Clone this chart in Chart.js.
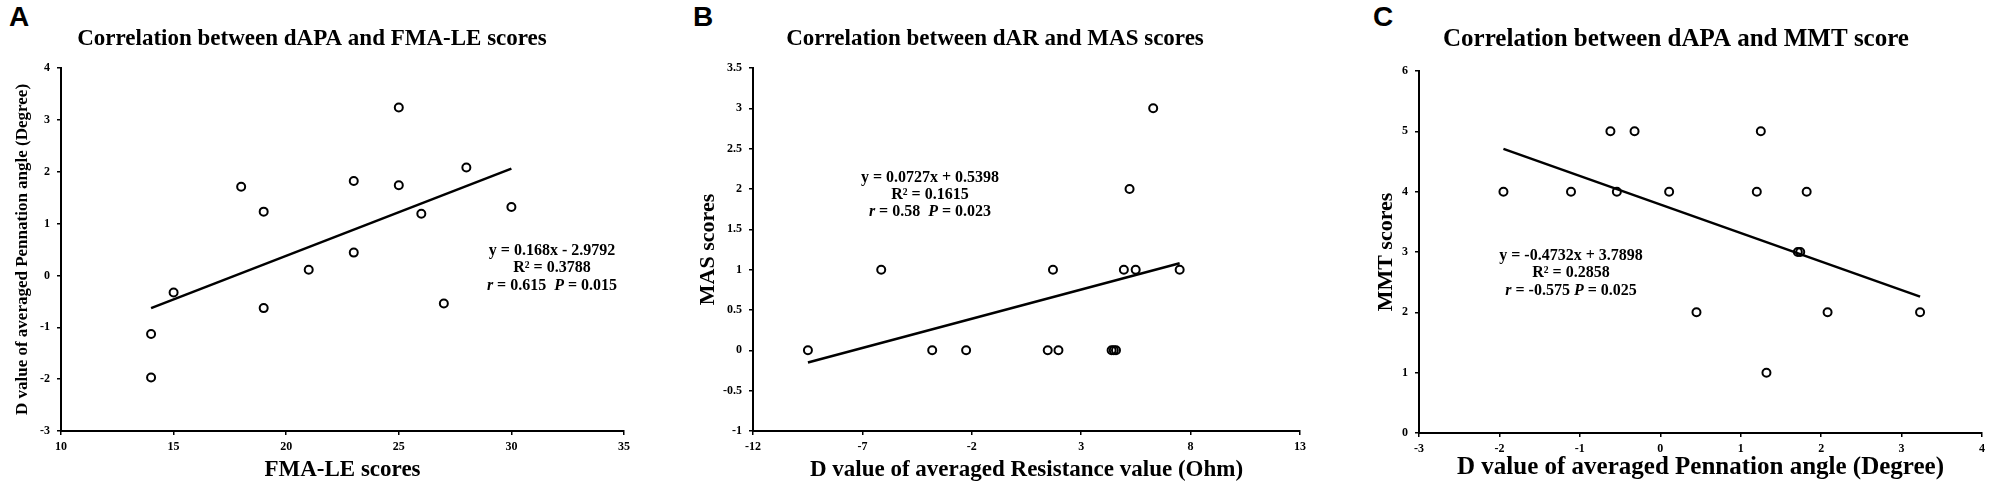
<!DOCTYPE html>
<html><head><meta charset="utf-8">
<script src="https://cdn.jsdelivr.net/npm/chart.js@4.4.1/dist/chart.umd.min.js"></script>
<style>
html,body{margin:0;padding:0;background:#fff;width:2000px;height:497px;overflow:hidden;}
.panel{position:absolute;top:0;}
.letter{position:absolute;font-family:"Liberation Sans",Arial,sans-serif;font-weight:bold;font-size:28px;line-height:28px;color:#000;}
</style></head><body>
<div class="letter" style="left:9px;top:3px">A</div>
<div class="letter" style="left:693px;top:3px">B</div>
<div class="letter" style="left:1373px;top:3px">C</div>
<canvas id="cA" class="panel" width="640" height="497" style="left:0px"></canvas>
<canvas id="cB" class="panel" width="622" height="497" style="left:690px"></canvas>
<canvas id="cC" class="panel" width="620" height="497" style="left:1370px"></canvas>
<script>
// ---- Panel A: dAPA vs FMA-LE ----
const fmaX = [14, 14, 15, 18, 19, 19, 21, 23, 23, 25, 25, 26, 27, 28, 30];
const fmaY = [-1.13, -1.97, -0.33, 1.71, 1.23, -0.63, 0.11, 1.82, 0.44, 3.24, 1.74, 1.19, -0.54, 2.08, 1.32];
const trendAX = [14, 30];
const trendAY = [-0.63, 2.06];
const ticksAX = [10, 15, 20, 25, 30, 35];
const ticksAY = [-3, -2, -1, 0, 1, 2, 3, 4];

// ---- Panel B: dAR vs MAS ----
const arX = [-9.49, -6.14, -3.81, -2.26, 1.47, 1.71, 1.96, 4.39, 4.49, 4.59, 4.95, 5.21, 5.49, 6.29, 7.50];
const masY = [0, 1, 0, 0, 0, 1, 0, 0, 0, 0, 1, 2, 1, 3, 1];
const trendBX = [-9.49, 7.5];
const trendBY = [-0.15, 1.08];
const ticksBX = [-12, -7, -2, 3, 8, 13];
const ticksBY = [-1, -0.5, 0, 0.5, 1, 1.5, 2, 2.5, 3, 3.5];

// ---- Panel C: dAPA vs MMT ----
const apaX = [-1.95, -1.11, -0.62, -0.54, -0.32, 0.11, 0.45, 1.20, 1.25, 1.32, 1.71, 1.74, 1.82, 2.08, 3.23];
const mmtY = [4, 4, 5, 4, 5, 4, 2, 4, 5, 1, 3, 3, 4, 2, 2];
const trendCX = [-1.95, 3.23];
const trendCY = [4.71, 2.26];
const ticksCX = [-3, -2, -1, 0, 1, 2, 3, 4];
const ticksCY = [0, 1, 2, 3, 4, 5, 6];

const titles = ["Correlation between dAPA and FMA-LE scores", "Correlation between dAR and MAS scores", "Correlation between dAPA and MMT score"];
const xTitles = ["FMA-LE scores", "D value of averaged Resistance value (Ohm)", "D value of averaged Pennation angle (Degree)"];
const yTitles = ["D value of averaged Pennation angle (Degree)", "MAS scores", "MMT scores"];
const annA = [[["y = 0.168x - 2.9792", "n"]], [["R² = 0.3788", "n"]], [["r", "i"], [" = 0.615  ", "n"], ["P", "i"], [" = 0.015", "n"]]];
const annB = [[["y = 0.0727x + 0.5398", "n"]], [["R² = 0.1615", "n"]], [["r", "i"], [" = 0.58  ", "n"], ["P", "i"], [" = 0.023", "n"]]];
const annC = [[["y = -0.4732x + 3.7898", "n"]], [["R² = 0.2858", "n"]], [["r", "i"], [" = -0.575 ", "n"], ["P", "i"], [" = 0.025", "n"]]];

const SERIF = '"Liberation Serif", "Times New Roman", serif';
const pts = (xs, ys) => xs.map((x, i) => ({x: x, y: ys[i]}));

const annotPlugin = {
  id: 'annot',
  afterDatasetsDraw(chart, args, opts) {
    if (!opts || !opts.lines) return;
    const ctx = chart.ctx;
    ctx.save();
    ctx.fillStyle = '#000';
    ctx.textBaseline = 'middle';
    ctx.textAlign = 'left';
    const fN = 'bold ' + opts.size + 'px ' + SERIF;
    const fI = 'italic bold ' + opts.size + 'px ' + SERIF;
    opts.lines.forEach((segs, li) => {
      let total = 0;
      segs.forEach(s => { ctx.font = s[1] === 'i' ? fI : fN; total += ctx.measureText(s[0]).width; });
      let x = opts.x - total / 2;
      const y = opts.ys[li];
      segs.forEach(s => { ctx.font = s[1] === 'i' ? fI : fN; ctx.fillText(s[0], x, y); x += ctx.measureText(s[0]).width; });
    });
    ctx.restore();
  }
};

function axis(pos, min, max, tickVals, fitSize, titleText, titleFont, titlePad) {
  return {
    type: 'linear', position: pos, min: min, max: max,
    afterBuildTicks: s => { s.ticks = tickVals.map(v => ({value: v})); },
    afterFit: s => { if (pos === 'bottom') s.height = fitSize; else s.width = fitSize; },
    ticks: {color: '#000', font: {family: SERIF, weight: 'bold', size: 12}, padding: pos === 'bottom' ? 5 : 7,
            autoSkip: false, maxRotation: 0, callback: v => String(v)},
    grid: {display: true, drawOnChartArea: false, drawTicks: true, tickLength: 4, color: '#000', lineWidth: 1.5},
    border: {display: true, color: '#000', width: 2},
    title: {display: true, text: titleText, color: '#000', font: {family: SERIF, weight: 'bold', size: titleFont, lineHeight: 1.2}, padding: titlePad}
  };
}

function makeChart(id, cfg) {
  new Chart(document.getElementById(id), {
    type: 'scatter',
    data: {datasets: [
      {type: 'scatter', data: cfg.points, order: 0, pointStyle: 'circle', pointRadius: 4, pointBorderWidth: 2,
       borderColor: '#000', backgroundColor: 'rgba(255,255,255,0)', pointHoverRadius: 4},
      {type: 'line', data: cfg.trend, order: 1, borderColor: '#000', borderWidth: 2.5, pointRadius: 0, fill: false, tension: 0}
    ]},
    options: {
      responsive: false, animation: false, devicePixelRatio: 1,
      layout: {padding: {top: 0, left: 0, right: cfg.padRight, bottom: 0}},
      events: [],
      plugins: {
        legend: {display: false}, tooltip: {enabled: false},
        title: {display: true, text: cfg.title, color: '#000', font: {family: SERIF, weight: 'bold', size: cfg.titleSize, lineHeight: 1.2}, padding: cfg.titlePad},
        annot: cfg.annot
      },
      scales: {x: cfg.x, y: cfg.y}
    },
    plugins: [annotPlugin]
  });
}

makeChart('cA', {
  points: pts(fmaX, fmaY), trend: pts(trendAX, trendAY), padRight: 16,
  title: titles[0], titleSize: 23, titlePad: {top: 25.2, bottom: 15.2},
  x: axis('bottom', 10, 35, ticksAX, 66, xTitles[0], 23, {top: 0, bottom: 13}),
  y: axis('left', -3, 4, ticksAY, 61, yTitles[0], 17, {top: 12, bottom: 0}),
  annot: {x: 552, ys: [251, 268, 286], size: 16, lines: annA}
});
makeChart('cB', {
  points: pts(arX, masY), trend: pts(trendBX, trendBY), padRight: 12,
  title: titles[1], titleSize: 23, titlePad: {top: 25.2, bottom: 15.2},
  x: axis('bottom', -12, 13, ticksBX, 66, xTitles[1], 23, {top: 0, bottom: 13}),
  y: axis('left', -1, 3.5, ticksBY, 63, yTitles[1], 22, {top: 4.8, bottom: 0}),
  annot: {x: 240, ys: [178, 195, 212], size: 16, lines: annB}
});
makeChart('cC', {
  points: pts(apaX, mmtY), trend: pts(trendCX, trendCY), padRight: 8,
  title: titles[2], titleSize: 25, titlePad: {top: 25, bottom: 16},
  x: axis('bottom', -3, 4, ticksCX, 64, xTitles[2], 25, {top: 0, bottom: 14}),
  y: axis('left', 0, 6, ticksCY, 49, yTitles[2], 22, {top: 2.8, bottom: 0}),
  annot: {x: 201, ys: [256, 273, 291], size: 16, lines: annC}
});
</script>
</body></html>
